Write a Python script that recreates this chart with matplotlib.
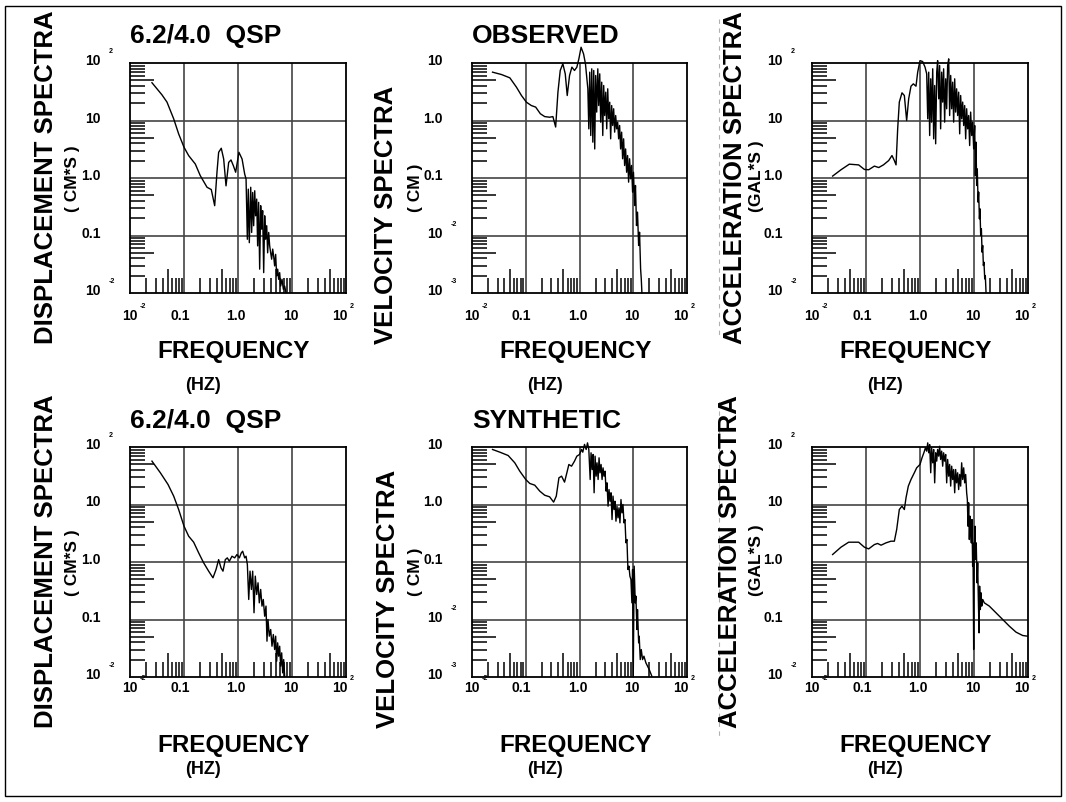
import matplotlib
matplotlib.use('Agg')
import matplotlib.pyplot as plt
from matplotlib.ticker import LogLocator, NullFormatter
from matplotlib.transforms import offset_copy
from matplotlib.patches import Rectangle
from matplotlib.lines import Line2D

# ---------------- data (frequency in Hz, spectral amplitude) ----------------
freq_disp_obs = [0.0255, 0.039, 0.0484, 0.0644, 0.0796, 0.1, 0.122, 0.162, 0.2, 0.267, 0.32, 0.37,
                 0.408, 0.438, 0.49, 0.543, 0.6, 0.672, 0.742, 0.82, 0.905, 1.04, 1.19,
                 1.33, 1.41, 1.49, 1.55, 1.62, 1.72, 1.79, 1.87, 1.95, 2.04, 2.12, 2.22, 2.31, 2.41,
                 2.52, 2.63, 2.74, 2.86, 2.99, 3.12, 3.25, 3.40, 3.54, 3.70, 3.86, 4.03, 4.20, 4.39,
                 4.57, 4.77, 4.98, 5.20, 5.43, 5.66, 5.91, 6.17, 6.53, 6.92, 7.31, 7.74]
amp_disp_obs = [45.4, 28, 20.9, 10.7, 5.85, 3.43, 2.45, 1.75, 1.1, 0.69, 0.63, 0.33,
                1.26, 2.8, 3.29, 2.14, 0.73, 1.87, 2.06, 1.64, 1.26, 2.8, 2.14,
                1.17, 0.96, 0.086, 0.64, 0.075, 0.69, 0.113, 0.56, 0.148, 0.60, 0.22, 0.43, 0.066, 0.377,
                0.026, 0.33, 0.129, 0.27, 0.0226, 0.22, 0.086, 0.148, 0.050, 0.113, 0.066, 0.050, 0.0387, 0.058,
                0.044, 0.0296, 0.047, 0.0198, 0.026, 0.0173, 0.0226, 0.0132, 0.0173, 0.0116, 0.0132, 0.0101]

freq_vel_obs = [0.0241, 0.0354, 0.0506, 0.0671, 0.0832, 0.103, 0.127, 0.153, 0.187, 0.225, 0.278, 0.32,
                0.36, 0.397, 0.438, 0.49, 0.543, 0.591, 0.653, 0.722, 0.807, 0.893, 0.973, 1.07, 1.19, 1.29,
                1.43, 1.49, 1.55, 1.62, 1.69, 1.77, 1.84, 1.92, 2.00, 2.09, 2.19, 2.28, 2.38, 2.48, 2.59,
                2.71, 2.82, 2.94, 3.08, 3.21, 3.35, 3.49, 3.65, 3.80, 3.97, 4.14, 4.32, 4.51, 4.71, 4.91,
                5.13, 5.35, 5.58, 5.82, 6.08, 6.34, 6.62, 6.91, 7.21, 7.53, 7.85, 8.20, 8.55, 8.93, 9.31,
                9.72, 10.1, 10.6, 11.0, 11.5, 12.0, 12.6, 13.1, 13.7, 14.1, 14.5]
amp_vel_obs = [6.93, 6.3, 5.52, 3.8, 2.72, 2.08, 1.82, 1.71, 1.31, 1.17, 1.14, 1.17,
               0.77, 3.11, 7.4, 9.7, 6.48, 2.72, 6.06, 8.47, 7.41, 8.47, 11.8, 18.8, 14.4, 9.7,
               3.56, 0.716, 6.93, 0.548, 7.92, 0.42, 7.41, 0.32, 6.06, 1.40, 7.92, 1.82, 6.48, 0.935, 4.64,
               0.548, 4.06, 1.22, 3.11, 0.716, 3.56, 1.07, 2.08, 0.48, 1.82, 0.819, 1.6, 0.627, 1.22, 0.716,
               0.935, 0.48, 0.819, 0.32, 0.627, 0.216, 0.48, 0.165, 0.32, 0.126, 0.246, 0.0847, 0.216, 0.0968, 0.165,
               0.0567, 0.126, 0.0332, 0.0741, 0.0149, 0.0255, 0.0067, 0.0114, 0.00263, 0.00176, 0.001]

freq_acc_obs = [0.0241, 0.0344, 0.0491, 0.0731, 0.0932, 0.112, 0.143, 0.172, 0.21, 0.263, 0.303, 0.335,
                0.36, 0.386, 0.414, 0.464, 0.513, 0.566, 0.617, 0.681, 0.753, 0.843, 0.906, 1.0, 1.12, 1.24, 1.33,
                1.39, 1.45, 1.51, 1.58, 1.64, 1.72, 1.79, 1.87, 1.95, 2.04, 2.12, 2.22, 2.31, 2.41, 2.52,
                2.63, 2.74, 2.86, 2.99, 3.12, 3.25, 3.40, 3.54, 3.70, 3.86, 4.03, 4.20, 4.39, 4.57, 4.77,
                4.98, 5.20, 5.43, 5.66, 5.91, 6.17, 6.44, 6.72, 7.01, 7.31, 7.63, 7.96, 8.31, 8.67, 9.06,
                9.44, 9.86, 10.3, 10.6, 10.9, 11.2, 11.5, 11.9, 12.2, 12.6, 12.9, 13.3, 13.7, 14.1, 14.5,
                14.9, 15.3, 15.8, 16.2, 16.7]
amp_acc_obs = [1.08, 1.39, 1.74, 1.69, 1.41, 1.39, 1.61, 1.52, 1.69, 2.01, 2.46, 2.01,
               1.69, 7.16, 20.9, 30.3, 27.2, 10, 23.8, 39.5, 43.4, 39.5, 69.3, 110, 106, 84.7, 64.9,
               10.7, 69.3, 5.48, 53.1, 9.36, 79.3, 4.8, 40.6, 3.93, 69.3, 110, 23.8, 90.5, 7.16, 69.3,
               20.9, 79.3, 9.36, 53.1, 16.0, 90.5, 118, 12.2, 60.7, 16.0, 46.4, 9.36, 53.1, 14.0, 35.6,
               12.2, 31.1, 5.86, 27.2, 10.7, 20.9, 8.18, 18.2, 4.8, 16.0, 7.16, 12.2, 3.67, 14.0, 5.48,
               9.36, 3.21, 8.18, 1.10, 4.2, 0.741, 1.44, 0.38, 0.568, 0.195, 0.291, 0.1, 0.131, 0.0513,
               0.067, 0.0301, 0.0343, 0.0176, 0.0201, 0.0103]

freq_disp_syn = [0.0255, 0.0365, 0.0506, 0.0644, 0.0796, 0.1, 0.122, 0.151, 0.187, 0.231, 0.286, 0.344,
                 0.392, 0.438, 0.484, 0.527, 0.582, 0.634, 0.691, 0.774, 0.867, 0.957, 1.06, 1.15, 1.22,
                 1.33, 1.41, 1.49,
                 1.58, 1.67, 1.77, 1.87, 1.98, 2.09, 2.22, 2.35, 2.48, 2.63, 2.78, 2.94, 3.12, 3.30, 3.44,
                 3.59, 3.80, 4.03, 4.26, 4.51, 4.77, 4.98, 5.20, 5.43, 5.66, 5.91, 6.17, 6.44, 6.72, 7.01, 7.31]
amp_disp_syn = [56.8, 35.6, 22.3, 14.0, 8.18, 4.2, 2.81, 2.21, 1.44, 0.968, 0.693, 0.531,
                0.741, 1.10, 0.793, 0.693, 1.10, 1.18, 1.03, 1.26, 1.18, 1.35, 1.18, 1.44, 1.54,
                1.18, 1.26, 0.906,
                0.223, 0.693, 0.333, 0.693, 0.131, 0.568, 0.272, 0.435, 0.195, 0.333, 0.171, 0.223, 0.114, 0.171, 0.042,
                0.1, 0.0513, 0.067, 0.0343, 0.0548, 0.0301, 0.0513, 0.0188, 0.0393, 0.023, 0.0343, 0.0154, 0.0263,
                0.0118, 0.0201, 0.0103]

freq_vel_syn = [0.0241, 0.033, 0.0471, 0.0625, 0.0774, 0.1, 0.119, 0.147, 0.182, 0.225, 0.278, 0.33,
                0.37, 0.414, 0.464, 0.527, 0.582, 0.634, 0.711, 0.807, 0.893, 1.0, 1.09, 1.15, 1.24, 1.33,
                1.41, 1.49,
                1.58, 1.64, 1.72, 1.79, 1.87, 1.95, 2.04, 2.12, 2.22, 2.31, 2.41, 2.52, 2.63, 2.74, 2.86,
                2.99, 3.12, 3.25, 3.40, 3.54, 3.70, 3.86, 4.03, 4.20, 4.39, 4.57, 4.77, 4.98, 5.20, 5.43,
                5.66, 5.91, 6.17, 6.44, 6.72, 7.01, 7.31, 7.63, 7.96, 8.31, 8.67, 9.06, 9.44,
                9.72, 10.0, 10.4, 10.9, 11.2, 11.7, 12.0, 12.6, 12.9, 13.5, 14.1, 14.9, 15.8, 17.2, 19.8, 22.2]
amp_vel_syn = [9.05, 8.13, 7.11, 5.31, 3.8, 2.72, 2.32, 2.17, 1.71, 1.45, 1.36, 1.1,
               1.40, 2.91, 3.11, 2.45, 3.56, 4.96, 4.64, 5.67, 6.93, 7.41, 9.05, 8.13, 11.1, 9.05,
               11.8, 9.05,
               2.72, 7.92, 4.06, 7.41, 1.6, 6.93, 3.11, 5.31, 2.72, 6.48, 3.56, 4.96, 2.72, 4.34, 3.11,
               3.8, 1.71, 2.38, 0.935, 1.82, 1.14, 1.6, 0.548, 1.40, 0.819, 1.14, 0.513, 0.935, 0.586, 0.875,
               0.48, 1.22, 0.716, 1.0, 0.48, 0.548, 0.216, 0.246, 0.0741, 0.0847, 0.0567, 0.0496, 0.0195,
               0.0741, 0.001, 0.0847, 0.0195, 0.0255, 0.0067, 0.0149, 0.00393, 0.00513, 0.00201, 0.003,
               0.00201, 0.0023, 0.00176, 0.00135, 0.00103]

freq_acc_syn = [0.0241, 0.0344, 0.0477, 0.0731, 0.0932, 0.112, 0.143, 0.164, 0.19, 0.234, 0.29, 0.335,
                0.37, 0.414, 0.464, 0.513, 0.551, 0.608, 0.681, 0.785, 0.867, 1.0, 1.09, 1.19, 1.26, 1.33, 1.39,
                1.45, 1.51, 1.58, 1.64, 1.72, 1.79, 1.87, 1.95, 2.04, 2.12, 2.22, 2.31, 2.41, 2.52, 2.63,
                2.74, 2.86, 2.99, 3.12, 3.25, 3.40, 3.54, 3.70, 3.86, 4.03, 4.20, 4.39, 4.57, 4.77, 4.98,
                5.20, 5.43, 5.66, 5.91, 6.17, 6.44, 6.72, 7.01, 7.31,
                7.53, 7.74, 7.96, 8.20, 8.43, 8.67, 8.93, 9.18, 9.44, 9.58, 9.86, 10.1, 10.4, 10.7, 11.0,
                11.4, 11.7, 12.0, 12.4, 12.7, 13.1, 13.5, 13.9, 14.5, 15.5, 19.2, 25.5, 34.0, 45.1, 60.0,
                79.6, 97.3]
amp_acc_syn = [1.35, 1.81, 2.21, 2.21, 1.81, 1.69, 2.01, 2.1, 1.96, 2.15, 2.3, 2.3,
               3.67, 8.18, 9.36, 8.18, 13.1, 20.9, 27.2, 35.6, 43.4, 49.7, 64.9, 81.3, 96.8, 84.7, 118,
               79.3, 110, 35.6, 96.8, 53.1, 90.5, 23.8, 79.3, 56.8, 90.5, 69.3, 103, 60.7, 84.7, 46.4,
               79.3, 56.8, 74.1, 23.8, 60.7, 31.1, 49.7, 20.9, 46.4, 27.2, 40.6, 16.0, 40.6, 23.8, 35.6,
               18.2, 33.3, 20.9, 53.1, 27.2, 43.4, 23.8, 33.3, 16.0,
               12.2, 4.2, 10.7, 2.46, 6.27, 3.67, 2.15, 5.48, 0.847, 2.15, 0.0301, 1.44, 4.2, 1.10, 2.15,
               0.435, 0.968, 0.255, 0.0586, 0.38, 0.149, 0.291, 0.171, 0.223, 0.195, 0.171, 0.131, 0.1,
               0.0766, 0.0603, 0.0527, 0.0513]

titles = ['6.2/4.0  QSP', 'OBSERVED', '', '6.2/4.0  QSP', 'SYNTHETIC', '']
ylabels = ['DISPLACEMENT SPECTRA', 'VELOCITY SPECTRA', 'ACCELERATION SPECTRA'] * 2
yunits = ['( CM*S )', '( CM )', '(GAL*S )'] * 2
xlabel = 'FREQUENCY'
xunit = '(HZ)'
xtick_vals = [0.01, 0.1, 1.0, 10.0, 100.0]
xtick_text = [('10', '-2'), ('0.1', ''), ('1.0', ''), ('10', ''), ('10', '2')]
ytick_vals_a = [100.0, 10.0, 1.0, 0.1, 0.01]
ytick_text_a = [('10', '2'), ('10', ''), ('1.0', ''), ('0.1', ''), ('10', '-2')]
ytick_vals_b = [10.0, 1.0, 0.1, 0.01, 0.001]
ytick_text_b = [('10', ''), ('1.0', ''), ('0.1', ''), ('10', '-2'), ('10', '-3')]

series = [(freq_disp_obs, amp_disp_obs), (freq_vel_obs, amp_vel_obs), (freq_acc_obs, amp_acc_obs),
          (freq_disp_syn, amp_disp_syn), (freq_vel_syn, amp_vel_syn), (freq_acc_syn, amp_acc_syn)]

# ---------------- layout (pixels) ----------------
W, H = 1066, 803
FONT = 'Liberation Sans'
fig = plt.figure(figsize=(W / 100, H / 100), dpi=100)
fig.patch.set_facecolor('white')

boxes = [(130, 346, 64, 294), (472, 687, 64, 294), (812, 1028, 64, 294),
         (130, 346, 448, 678), (472, 687, 448, 678), (812, 1028, 448, 678)]
ylab_x = [53, 393, 742, 53, 395, 737]
unit_x = [77, 420, 761, 77, 420, 761]


def ftext(x, y, s, size, **kw):
    fig.text(x / W, 1 - y / H, s, fontsize=size, fontfamily=FONT, fontweight='bold', **kw)


def fx(x):
    return x / W


def fy(y):
    return 1 - y / H


fig.add_artist(Rectangle((5 / W, 1 - 797 / H), 1056 / W, 790 / H, transform=fig.transFigure,
                         fill=False, edgecolor='black', lw=1.0))
# faint dashed scan line between the middle and right columns
for y0, y1 in ((20, 338), (403, 738)):
    fig.add_artist(Line2D([fx(719), fx(719)], [fy(y0), fy(y1)], transform=fig.transFigure,
                          color='#b0b0b0', lw=0.8, dashes=(4, 4)))

for i, (l, r, t, b) in enumerate(boxes):
    ax = fig.add_axes([l / W, 1 - b / H, (r - l) / W, (b - t) / H])
    row = i // 3
    if i % 3 == 1:
        ylim = (1e-3, 1e1)
        yvals, ytxt = ytick_vals_b, ytick_text_b
    else:
        ylim = (1e-2, 1e2)
        yvals, ytxt = ytick_vals_a, ytick_text_a
    ax.set_xscale('log')
    ax.set_yscale('log')
    ax.set_xlim(1e-2, 1e2)
    ax.set_ylim(*ylim)
    for axis in (ax.xaxis, ax.yaxis):
        axis.set_major_locator(LogLocator(base=10, subs=(5.0,), numticks=20))
        axis.set_minor_locator(LogLocator(base=10, subs=(2., 3., 4., 6., 7., 8., 9.), numticks=20))
        axis.set_major_formatter(NullFormatter())
        axis.set_minor_formatter(NullFormatter())
    ax.tick_params(which='major', direction='in', length=17, width=1.1, color='black',
                   top=False, right=False, labelbottom=False, labelleft=False)
    ax.tick_params(which='minor', direction='in', length=11, width=1.1, color='black',
                   top=False, right=False)
    for s in ax.spines.values():
        s.set_linewidth(1.3)
        s.set_color('black')
        s.set_zorder(5)
    for xv in xtick_vals[1:-1]:
        ax.axvline(xv, color='#444444', lw=1.2, zorder=1)
    for yv in yvals[1:-1]:
        ax.axhline(yv, color='#444444', lw=1.2, zorder=1)

    f, v = series[i]
    ax.plot(f, v, color='black', lw=1.0, clip_on=False, zorder=3)

    # x tick labels
    xl_dy = 26 if row == 0 else 14
    xdx = [0, -4, -2, -1, -6]
    for xv, (m, sup), dx in zip(xtick_vals, xtick_text, xdx):
        tr = offset_copy(ax.get_xaxis_transform(), fig=fig, x=dx, y=-xl_dy, units='dots')
        ax.text(xv, 0, m, transform=tr, ha='center', va='baseline', fontsize=10,
                fontfamily=FONT, fontweight='bold')
        if sup:
            tr2 = offset_copy(ax.get_xaxis_transform(), fig=fig, x=dx + 10, y=-xl_dy + 12, units='dots')
            ax.text(xv, 0, sup, transform=tr2, ha='left', va='baseline', fontsize=5,
                    fontfamily=FONT, fontweight='bold')
    # y tick labels
    for yv, (m, sup) in zip(yvals, ytxt):
        tr = offset_copy(ax.get_yaxis_transform(), fig=fig, x=-29, y=-1, units='dots')
        ax.text(0, yv, m, transform=tr, ha='right', va='baseline', fontsize=10,
                fontfamily=FONT, fontweight='bold')
        if sup:
            tr2 = offset_copy(ax.get_yaxis_transform(), fig=fig, x=-21, y=11, units='dots')
            ax.text(0, yv, sup, transform=tr2, ha='left', va='baseline', fontsize=5,
                    fontfamily=FONT, fontweight='bold')

    # titles and axis labels
    if titles[i]:
        ftext(l, 43 if row == 0 else 428, titles[i], 19, ha='left', va='baseline')
    ystart = b + 50
    ftext(ylab_x[i], ystart, ylabels[i], 18.5, rotation=90, rotation_mode='anchor',
          ha='left', va='baseline')
    ftext(unit_x[i], b - 82, yunits[i], 12.5, rotation=90, rotation_mode='anchor',
          ha='left', va='baseline')
    ftext(l + 27, 358 if row == 0 else 752, xlabel, 17.5, ha='left', va='baseline')
    ftext(l + 55, 390 if row == 0 else 774, xunit, 13, ha='left', va='baseline')

fig.savefig('out.png', dpi=100, facecolor='white')
